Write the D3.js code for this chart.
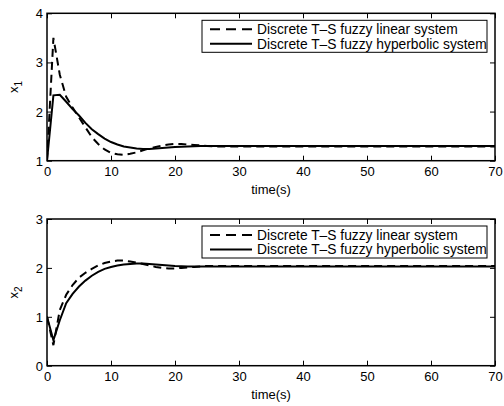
<!DOCTYPE html>
<html>
<head>
<meta charset="utf-8">
<script src="https://cdn.jsdelivr.net/npm/d3@7"></script>
<style>
  html, body { margin: 0; padding: 0; background: #fff; }
  svg { display: block; }
  text { font-family: "Liberation Sans", Arial, Helvetica, sans-serif; fill: #000; }
</style>
</head>
<body>
<svg id="chart" width="504" height="406"></svg>
<script>
// ---- data ----
const time = [0,1,2,3,4,5,6,7,8,9,10,11,12,13,14,15,16,17,18,19,20,21,22,23,24,25,26,28,30,35,40,50,60,70];
const x1Linear =     [1,3.5,2.75,2.3,2.08,1.88,1.68,1.48,1.34,1.23,1.16,1.13,1.12,1.14,1.17,1.21,1.25,1.28,1.31,1.33,1.34,1.34,1.33,1.32,1.31,1.30,1.29,1.29,1.29,1.29,1.29,1.29,1.29,1.29];
const x1Hyperbolic = [1,2.33,2.34,2.2,2.05,1.92,1.77,1.64,1.54,1.45,1.38,1.33,1.29,1.27,1.25,1.24,1.24,1.25,1.26,1.27,1.28,1.285,1.29,1.295,1.30,1.30,1.30,1.30,1.30,1.30,1.30,1.30,1.30,1.30];
const x2Linear =     [1,0.42,1.14,1.45,1.65,1.80,1.90,1.98,2.05,2.10,2.13,2.15,2.15,2.13,2.11,2.08,2.05,2.02,2.00,1.99,1.99,2.00,2.01,2.02,2.03,2.04,2.04,2.04,2.04,2.04,2.04,2.04,2.04,2.04];
const x2Hyperbolic = [1,0.52,0.93,1.28,1.47,1.62,1.74,1.84,1.92,1.98,2.02,2.05,2.07,2.08,2.09,2.09,2.08,2.07,2.06,2.05,2.04,2.035,2.03,2.03,2.03,2.03,2.03,2.03,2.03,2.03,2.03,2.03,2.03,2.03];

const xTicks = [0,10,20,30,40,50,60,70];
const x1Ticks = [1,2,3,4];
const x2Ticks = [0,1,2,3];
const seriesNames = ["Discrete T\u2013S fuzzy linear system", "Discrete T\u2013S fuzzy hyperbolic system"];
const xLabel = "time(s)";

// ---- layout ----
const svg = d3.select("#chart");
const left = 47, right = 495;
const panels = [
  { top: 13.3, bottom: 160.7, domain: [1,4], ticks: x1Ticks, sub: "1", lin: x1Linear, hyp: x1Hyperbolic },
  { top: 219, bottom: 365.7, domain: [0,3], ticks: x2Ticks, sub: "2", lin: x2Linear, hyp: x2Hyperbolic }
];
const FS = 13;
const LFS = 13.8;

const x = d3.scaleLinear().domain([0,70]).range([left, right]);

panels.forEach(p => {
  const y = d3.scaleLinear().domain(p.domain).range([p.bottom, p.top]);
  const g = svg.append("g");

  // ticks (inward) + labels
  const ax = g.append("g").attr("transform", `translate(0,${p.bottom})`)
    .call(d3.axisBottom(x).tickValues(xTicks).tickSizeInner(-5).tickSizeOuter(0).tickPadding(4).tickFormat(d3.format("d")));
  const axT = g.append("g").attr("transform", `translate(0,${p.top})`)
    .call(d3.axisTop(x).tickValues(xTicks).tickSizeInner(-5).tickSizeOuter(0).tickFormat(""));
  const ay = g.append("g").attr("transform", `translate(${left},0)`)
    .call(d3.axisLeft(y).tickValues(p.ticks).tickSizeInner(-5).tickSizeOuter(0).tickPadding(4).tickFormat(d3.format("d")));
  const ayR = g.append("g").attr("transform", `translate(${right},0)`)
    .call(d3.axisRight(y).tickValues(p.ticks).tickSizeInner(-5).tickSizeOuter(0).tickFormat(""));
  [ax, axT, ay, ayR].forEach(a => {
    a.select(".domain").remove();
    a.selectAll(".tick line").attr("stroke", "#000").attr("stroke-width", 1);
    a.selectAll("text").attr("font-size", FS).attr("font-family", "Liberation Sans, Arial, sans-serif").attr("fill", "#000");
  });
  ax.selectAll("text").attr("dy", "0.85em");
  ay.selectAll("text").attr("dy", "0.35em");

  // lines
  const clipId = "clip" + p.sub;
  svg.append("clipPath").attr("id", clipId).append("rect")
    .attr("x", left).attr("y", p.top).attr("width", right - left).attr("height", p.bottom - p.top);
  const line = arr => d3.line().x((d,i) => x(time[i])).y(d => y(d))(arr);
  g.append("path").attr("d", line(p.hyp)).attr("fill", "none").attr("stroke", "#000")
    .attr("stroke-width", 2).attr("clip-path", `url(#${clipId})`);
  g.append("path").attr("d", line(p.lin)).attr("fill", "none").attr("stroke", "#000")
    .attr("stroke-width", 2).attr("stroke-dasharray", "8,5").attr("clip-path", `url(#${clipId})`);

  // box
  g.append("rect").attr("x", left).attr("y", p.top).attr("width", right - left).attr("height", p.bottom - p.top)
    .attr("fill", "none").attr("stroke", "#000").attr("stroke-width", 1.5);

  // axis labels
  g.append("text").attr("x", (left + right) / 2).attr("y", p.bottom + 33)
    .attr("text-anchor", "middle").attr("font-size", FS).text(xLabel);
  const yl = g.append("text").attr("transform", `translate(18,${(p.top + p.bottom) / 2}) rotate(-90)`)
    .attr("text-anchor", "middle").attr("font-size", FS);
  yl.append("tspan").text("x");
  yl.append("tspan").attr("font-size", 10).attr("dy", 4).text(p.sub);

  // legend
  const lx = 202, ly = p.top + 7, lw = 285, lh = 32;
  const lg = g.append("g");
  lg.append("rect").attr("x", lx).attr("y", ly).attr("width", lw).attr("height", lh)
    .attr("fill", "#fff").attr("stroke", "#000").attr("stroke-width", 1);
  seriesNames.forEach((name, i) => {
    const ry = ly + 9 + i * 14.5;
    lg.append("line").attr("x1", lx + 8).attr("x2", lx + 50).attr("y1", ry).attr("y2", ry)
      .attr("stroke", "#000").attr("stroke-width", 2).attr("stroke-dasharray", i === 0 ? "10,6" : null);
    lg.append("text").attr("x", lx + 55).attr("y", ry).attr("dy", "0.35em")
      .attr("font-size", LFS).text(name);
  });
});
</script>
</body>
</html>
